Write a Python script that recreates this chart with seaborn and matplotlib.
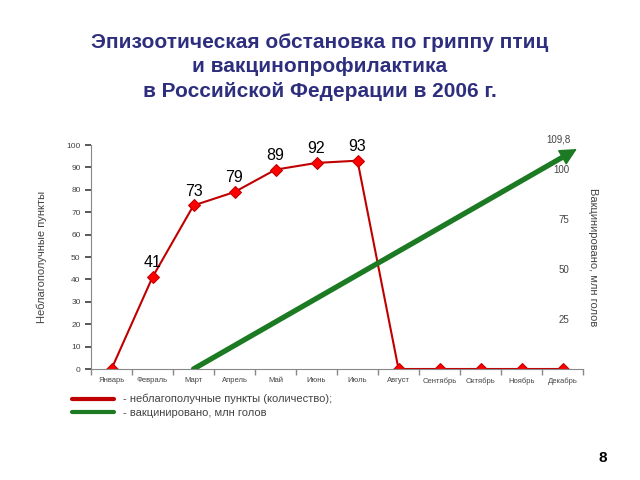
import matplotlib
matplotlib.use("Agg")
import matplotlib.pyplot as plt
import seaborn as sns
import numpy as np
from matplotlib.lines import Line2D

months = ["Январь", "Февраль", "Март", "Апрель", "Май", "Июнь", "Июль",
          "Август", "Сентябрь", "Октябрь", "Ноябрь", "Декабрь"]
outbreaks = [0, 41, 73, 79, 89, 92, 93, 0, 0, 0, 0, 0]
labeled = [41, 73, 79, 89, 92, 93]
vacc_start_month = "Март"
vacc_values = [0, 109.8]
vacc_end_label = "109,8"
right_ticks = [25, 50, 75, 100]
left_ticks = list(range(0, 101, 10))

title = "Эпизоотическая обстановка по гриппу птиц\nи вакцинопрофилактика\nв Российской Федерации в 2006 г."
left_label = "Неблагополучные пункты"
right_label = "Вакцинировано, млн голов"
legend_labels = ["- неблагополучные пункты (количество);", "- вакцинировано, млн голов"]

sns.set_theme(style="white")
plt.rcParams["font.family"] = ["Liberation Sans", "DejaVu Sans"]

RED_LINE = "#C00000"
RED_MK = "#FF0000"
GREEN = "#1B7A22"
TITLE_C = "#2E2E7E"
GREY = "#444444"

fig = plt.figure(figsize=(6.4, 4.8), dpi=100)
ax = fig.add_axes([91/640, 1-369/480, 492/640, 224/480])

x = np.arange(len(months))
sns.lineplot(x=x, y=outbreaks, ax=ax, color=RED_LINE, lw=1.5, marker="D",
             markersize=6.5, markerfacecolor=RED_MK, markeredgecolor=RED_LINE,
             sort=False, legend=False)
for xi, v in zip(x, outbreaks):
    if v in labeled:
        ax.text(xi, v + 3, str(v), ha="center", va="bottom", fontsize=11.5, color="black")

ax.set_xlim(-0.5, len(months) - 0.5)
ax.set_ylim(0, 100)
ax.set_yticks(left_ticks)
ax.set_xticks(x)
ax.set_xticklabels(months, fontsize=5.5, color=GREY)
ax.set_xticks(np.arange(-0.5, len(months), 1), minor=True)
ax.tick_params(axis="x", which="major", length=0, pad=6)
ax.tick_params(axis="x", which="minor", length=4, color="#888888", direction="out", bottom=True)
ax.tick_params(axis="y", labelsize=6, colors=GREY, length=4, direction="out", left=True)
for s in ["top", "right"]:
    ax.spines[s].set_visible(False)
ax.spines["left"].set_color("#888888")
ax.spines["bottom"].set_color("#888888")
ax.spines["left"].set_linewidth(0.8)
ax.spines["bottom"].set_linewidth(0.8)
ax.set_ylabel(left_label, fontsize=8, color=GREY, labelpad=14)
ax.set_xlabel("")

# second axis: vaccination
ax2 = ax.twinx()
ax2.set_ylim(0, 111.8)
start = months.index(vacc_start_month)
end = len(months) - 1 + 0.35
vx = [start, end]
slope = (vacc_values[1] - vacc_values[0]) / (vx[1] - vx[0])
head = 0.3
sns.lineplot(x=[vx[0], vx[1] - head], y=[vacc_values[0], vacc_values[1] - head * slope],
             ax=ax2, color=GREEN, lw=3.8, sort=False, legend=False)
ax2.annotate("", xy=(vx[1], vacc_values[1]),
             xytext=(vx[1] - head - 0.05, vacc_values[1] - (head + 0.05) * slope),
             arrowprops=dict(arrowstyle="-|>,head_length=0.9,head_width=0.45",
                             color=GREEN, lw=1, shrinkA=0, shrinkB=0))
ax2.text(vx[1] - 0.45, vacc_values[1] + 2, vacc_end_label, ha="center", va="bottom", fontsize=7, color=GREY)
ax2.set_yticks(right_ticks)
ax2.set_yticklabels([str(t) for t in right_ticks])
ax2.tick_params(axis="y", length=0, pad=-10, labelsize=7, colors=GREY)
for lbl in ax2.get_yticklabels():
    lbl.set_horizontalalignment("right")
for s in ["top", "right", "left", "bottom"]:
    ax2.spines[s].set_visible(False)
ax2.set_xlim(-0.5, len(months) - 0.5)
ax2.text(1.02, 0.5, right_label, transform=ax2.transAxes, rotation=270,
         ha="center", va="center", fontsize=8, color=GREY)

# legend
handles = [Line2D([], [], color=RED_LINE, lw=3), Line2D([], [], color=GREEN, lw=3)]
fig.legend(handles, legend_labels, loc="upper left", bbox_to_anchor=(62/640, 1-384/480),
           frameon=False, fontsize=8, handlelength=3.8, handletextpad=0.8,
           labelspacing=0.35, labelcolor=GREY)

fig.text(0.5, 1-67/480, title, ha="center", va="center", fontsize=15,
         fontweight="bold", color=TITLE_C, linespacing=1.38)
fig.text(603/640, 1-458/480, "8", ha="center", va="center", fontsize=11,
         fontweight="bold", color="black")

fig.savefig("out.png", dpi=100)
